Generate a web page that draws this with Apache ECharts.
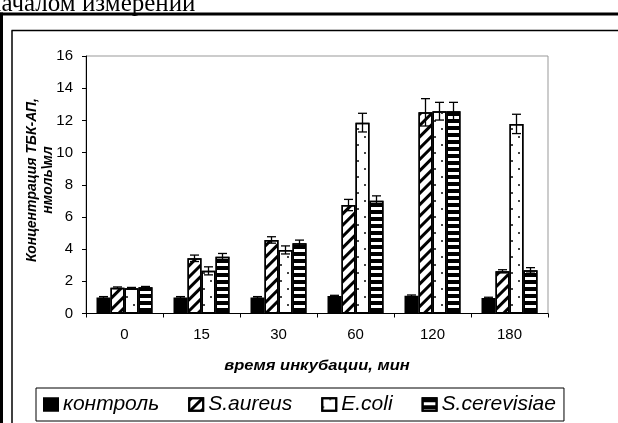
<!DOCTYPE html>
<html>
<head>
<meta charset="utf-8">
<script src="https://cdn.jsdelivr.net/npm/echarts@6/dist/echarts.min.js"></script>
<style>
html,body{margin:0;padding:0;background:#fff;}
#chart{width:618px;height:423px;}
</style>
</head>
<body>
<div id="chart"></div>
<script>
// ---- data ----
const categories = ['0', '15', '30', '60', '120', '180'];
const seriesNames = ['контроль', 'S.aureus', 'E.coli', 'S.cerevisiae'];
const controlVals = [1.0, 1.0, 1.0, 1.08, 1.1, 0.96];
const aureusVals = [1.6, 3.43, 4.57, 6.74, 12.5, 2.62];
const coliVals = [1.57, 2.65, 3.95, 11.86, 12.57, 11.78];
const cerevisiaeVals = [1.63, 3.53, 4.36, 7.01, 12.57, 2.68];
const controlErr = [0.05, 0.05, 0.05, 0.05, 0.05, 0.05];
const aureusErr = [0.05, 0.2, 0.2, 0.35, 0.85, 0.1];
const coliErr = [0.05, 0.25, 0.25, 0.58, 0.55, 0.6];
const cerevisiaeErr = [0.05, 0.2, 0.2, 0.3, 0.55, 0.17];
const yTicks = [0, 2, 4, 6, 8, 10, 12, 14, 16];
const xTitle = 'время инкубации, мин';
const yTitle = 'Концентрация ТБК-АП,\nнмоль\\мл';
const topText = 'началом измерений';

const allVals = [controlVals, aureusVals, coliVals, cerevisiaeVals];
const allErr = [controlErr, aureusErr, coliErr, cerevisiaeErr];

const FONT = '"Liberation Sans", Arial, sans-serif';
const BAR_W = 14;

const decals = [
  null,
  { symbol: 'rect', symbolSize: 1, color: '#000', dashArrayX: [1, 0], dashArrayY: [3, 5], rotation: -Math.PI / 4 },
  { symbol: 'rect', symbolSize: 1, color: '#444', dashArrayX: [[2, 12], [0, 7, 2, 5]], dashArrayY: [2, 6], rotation: 0 },
  { symbol: 'rect', symbolSize: 1, color: '#000', dashArrayX: [1, 0], dashArrayY: [4, 3], rotation: 0 }
];
const fills = ['#000', '#fff', '#fff', '#fff'];

const barSeries = seriesNames.map((name, i) => {
  const s = {
    name: name,
    type: 'bar',
    data: allVals[i],
    barWidth: BAR_W,
    barGap: '0%',
    itemStyle: { color: fills[i], borderColor: '#000', borderWidth: 1.5 },
    z: 2
  };
  if (decals[i]) s.itemStyle.decal = decals[i];
  return s;
});

function errRender(k) {
  return function (params, api) {
    const x = api.value(0), v = api.value(1), e = api.value(2);
    const hi = api.coord([x, v + e]);
    const lo = api.coord([x, v - e]);
    const cx = hi[0] + (k - 1.5) * BAR_W;
    const hw = 4.5;
    const st = { stroke: '#000', lineWidth: 1.3 };
    return {
      type: 'group',
      children: [
        { type: 'line', shape: { x1: cx, y1: hi[1], x2: cx, y2: lo[1] }, style: st },
        { type: 'line', shape: { x1: cx - hw, y1: hi[1], x2: cx + hw, y2: hi[1] }, style: st },
        { type: 'line', shape: { x1: cx - hw, y1: lo[1], x2: cx + hw, y2: lo[1] }, style: st }
      ]
    };
  };
}

const errSeries = seriesNames.map((name, k) => ({
  name: 'err_' + k,
  type: 'custom',
  renderItem: errRender(k),
  encode: { x: 0, y: 1 },
  data: allVals[k].map((v, i) => [i, v, allErr[k][i]]),
  z: 5,
  silent: true
}));

const chart = echarts.init(document.getElementById('chart'), null, { renderer: 'canvas' });
chart.setOption({
  animation: false,
  backgroundColor: '#fff',
  textStyle: { fontFamily: FONT },
  grid: { left: 86, right: 70, top: 56, bottom: 109.5, show: true, borderColor: '#999', borderWidth: 1, backgroundColor: 'transparent' },
  xAxis: {
    type: 'category',
    data: categories,
    boundaryGap: true,
    axisLine: { lineStyle: { color: '#000', width: 1 } },
    axisTick: { show: true, length: 4, inside: false, lineStyle: { color: '#000' } },
    axisLabel: { color: '#000', fontSize: 15, fontFamily: FONT, margin: 14 },
    splitLine: { show: false }
  },
  yAxis: {
    type: 'value',
    min: yTicks[0],
    max: yTicks[yTicks.length - 1],
    interval: 2,
    axisLine: { show: true, lineStyle: { color: '#000', width: 1 } },
    axisTick: { show: true, length: 4, inside: false, lineStyle: { color: '#000' } },
    axisLabel: { color: '#000', fontSize: 15, fontFamily: FONT, margin: 13 },
    splitLine: { show: false }
  },
  legend: {
    data: seriesNames,
    left: 36,
    top: 388,
    orient: 'horizontal',
    borderColor: '#000',
    borderWidth: 1,
    padding: [6, 8, 6, 7],
    itemWidth: 14,
    itemHeight: 12.5,
    itemGap: 29,
    icon: 'rect',
    textStyle: { color: '#000', fontSize: 21, fontStyle: 'italic', fontFamily: FONT },
    selectedMode: false
  },
  graphic: [
    { type: 'text', x: -12, y: 4, style: { text: topText, font: '25px "Liberation Serif", "Times New Roman", serif', fill: '#000', verticalAlign: 'middle', align: 'left' } },
    { type: 'rect', shape: { x: 0, y: 12.5, width: 618, height: 3 }, style: { fill: '#000' } },
    { type: 'rect', shape: { x: 0, y: 12.5, width: 3, height: 411 }, style: { fill: '#000' } },
    { type: 'line', shape: { x1: 11.5, y1: 30.5, x2: 618, y2: 30.5 }, style: { stroke: '#000', lineWidth: 1.5 } },
    { type: 'line', shape: { x1: 12, y1: 30.5, x2: 12, y2: 423 }, style: { stroke: '#000', lineWidth: 1.5 } },
    { type: 'text', x: 40, y: 180, rotation: Math.PI / 2, style: { text: yTitle, font: 'italic bold 14px ' + FONT, fill: '#000', align: 'center', verticalAlign: 'middle', lineHeight: 16 } },
    { type: 'text', x: 317, y: 366, scaleX: 1.1, style: { text: xTitle, font: 'italic bold 15px ' + FONT, fill: '#000', align: 'center', verticalAlign: 'middle' } }
  ],
  series: barSeries.concat(errSeries)
});
</script>
</body>
</html>
